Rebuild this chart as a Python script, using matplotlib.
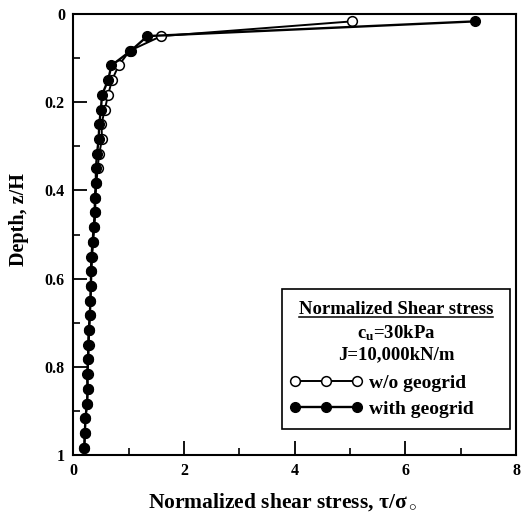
import matplotlib
matplotlib.use("Agg")
import matplotlib.pyplot as plt
import numpy as np
from matplotlib.lines import Line2D
from matplotlib.patches import Rectangle

plt.rcParams['font.family'] = ['Liberation Serif', 'DejaVu Serif']
plt.rcParams['font.weight'] = 'bold'
plt.rcParams['mathtext.fontset'] = 'custom'
plt.rcParams['mathtext.rm'] = 'Liberation Serif'
plt.rcParams['mathtext.bf'] = 'Liberation Serif:bold'
plt.rcParams['mathtext.it'] = 'Liberation Serif:bold'

# layer mid-depths (30 layers)
depth = (np.arange(30) + 0.5) / 30

# with geogrid
tau_geo = [7.25, 1.34, 1.04, 0.69, 0.63, 0.52, 0.50, 0.47, 0.46, 0.43,
           0.41, 0.41, 0.39, 0.39, 0.37, 0.35, 0.33, 0.32, 0.32, 0.31,
           0.30, 0.28, 0.27, 0.27, 0.25, 0.26, 0.25, 0.22, 0.21, 0.20]
# without geogrid
tau_nogeo = [5.03, 1.59, 1.02, 0.82, 0.70, 0.63, 0.57, 0.51, 0.52, 0.47,
             0.44, 0.42, 0.40, 0.40, 0.38, 0.36, 0.34, 0.33, 0.32, 0.31,
             0.30, 0.29, 0.28, 0.27, 0.26, 0.26, 0.25, 0.22, 0.21, 0.20]

fig = plt.figure(figsize=(5.23, 5.20), dpi=100)
ax = fig.add_axes([0.14, 0.125, 0.847, 0.848])

l1, = ax.plot(tau_nogeo, depth, '-o', color='black', lw=1.4, ms=7,
              mfc='white', mec='black', mew=1.1, label='w/o geogrid')
l2, = ax.plot(tau_geo, depth, '-o', color='black', lw=1.7, ms=7,
              mfc='black', mec='black', label='with geogrid')

ax.set_xlim(0, 8)
ax.set_ylim(1, 0)
ax.set_xticks([0, 2, 4, 6, 8])
ax.set_xticks([1, 3, 5, 7], minor=True)
ax.set_yticks([0, 0.2, 0.4, 0.6, 0.8, 1])
ax.set_yticklabels(['0', '0.2', '0.4', '0.6', '0.8', '1'])
ax.set_yticks([0.1, 0.3, 0.5, 0.7, 0.9], minor=True)
ax.tick_params(which='major', direction='in', length=10, width=1.3,
               labelsize=11.5, pad=6)
ax.tick_params(which='minor', direction='in', length=5, width=1.2)
for s in ax.spines.values():
    s.set_linewidth(1.5)

ax.set_xlabel(r'Normalized shear stress, $\mathrm{\tau/\sigma_\circ}$',
              fontsize=15.5, fontweight='bold')
ax.xaxis.set_label_coords(0.473, -0.083)
ax.set_ylabel('Depth, z/H', fontsize=14.5, fontweight='bold')
ax.yaxis.set_label_coords(-0.099, 0.535)

# legend box
box = Rectangle((0.472, 0.059), 0.514, 0.317, transform=ax.transAxes,
                fill=False, lw=1.2, ec='black', zorder=5)
ax.add_patch(box)
t1 = ax.text(0.729, 0.329, 'Normalized Shear stress', transform=ax.transAxes,
             ha='center', va='center', fontsize=13.5, fontweight='bold')
ax.text(0.729, 0.277, r'c$_\mathbf{u}$=30kPa', transform=ax.transAxes,
        ha='center', va='center', fontsize=13.5, fontweight='bold')
ax.text(0.729, 0.227, 'J=10,000kN/m', transform=ax.transAxes,
        ha='center', va='center', fontsize=13.5, fontweight='bold')

ax.legend(handles=[l1, l2], loc='upper left', bbox_to_anchor=(0.47, 0.2),
          frameon=False, numpoints=3, handlelength=3.8, handletextpad=0.3,
          labelspacing=0.4, prop={'size': 14, 'weight': 'bold'},
          borderaxespad=0)

# underline for the box heading
fig.canvas.draw()
bb = t1.get_window_extent().transformed(ax.transAxes.inverted())
ax.add_line(Line2D([bb.x0, bb.x1], [bb.y0 + 0.004, bb.y0 + 0.004],
                   transform=ax.transAxes, color='black', lw=1.1))

fig.savefig('out.png', dpi=100)
